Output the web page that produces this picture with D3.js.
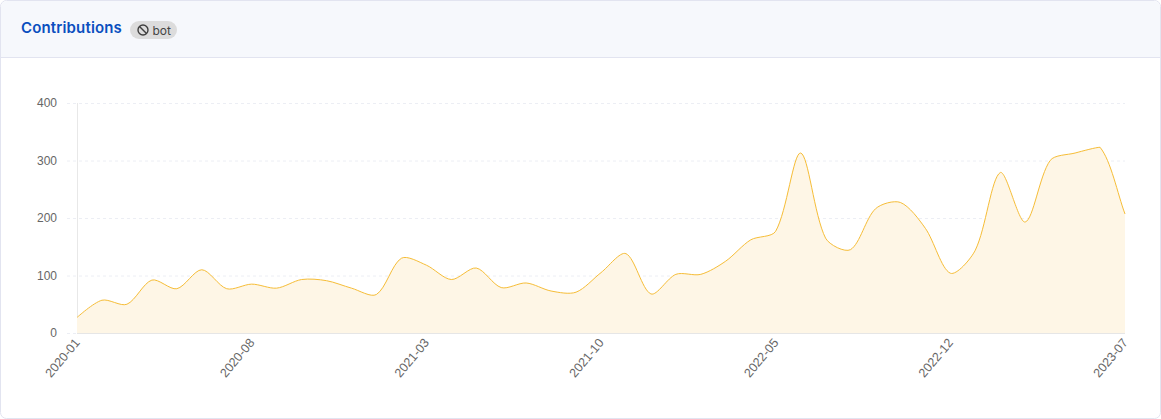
<!DOCTYPE html>
<html><head><meta charset="utf-8">
<script src="https://cdn.jsdelivr.net/npm/d3@7"></script>
<style>
html,body{margin:0;padding:0;background:#fff;}
svg{display:block;}
</style></head><body>
<svg id="c" width="1161" height="419"></svg>
<script>
const months = ["2020-01","2020-02","2020-03","2020-04","2020-05","2020-06","2020-07","2020-08","2020-09","2020-10","2020-11","2020-12",
"2021-01","2021-02","2021-03","2021-04","2021-05","2021-06","2021-07","2021-08","2021-09","2021-10","2021-11","2021-12",
"2022-01","2022-02","2022-03","2022-04","2022-05","2022-06","2022-07","2022-08","2022-09","2022-10","2022-11","2022-12",
"2023-01","2023-02","2023-03","2023-04","2023-05","2023-06","2023-07"];
const contributions = [27,57,50,92,77,110,77,85,78,93,91,78,67,130,118,93,113,79,87,73,71,105,138,68,102,102,125,162,177,313,165,145,216,227,182,104,144,279,193,300,313,323,207];
const xTickLabels = ["2020-01","2020-08","2021-03","2021-10","2022-05","2022-12","2023-07"];
const yTicks = [0,100,200,300,400];

// Length-weighted spline: tangent along (next - prev), split by neighbouring segment lengths.
function weightedSpline(context){
  const smooth = 0.3; let pts = [];
  return {
    lineStart(){ pts = []; },
    point(px,py){ pts.push([+px,+py]); },
    lineEnd(){
      const n = pts.length;
      const ys = pts.map(p=>p[1]), yMin = d3.min(ys), yMax = d3.max(ys);
      const hyp = (a,b)=>Math.hypot(a[0]-b[0],a[1]-b[1]);
      context.moveTo(pts[0][0],pts[0][1]);
      let out = pts[0];
      for(let i=1;i<n;i++){
        const p = pts[i], prev = pts[i-1], next = pts[Math.min(i+1,n-1)];
        const vx=(next[0]-prev[0])*smooth, vy=(next[1]-prev[1])*smooth;
        const lp=hyp(p,prev), ln=hyp(p,next), s=(lp+ln)||1;
        const cy=v=>Math.max(yMin,Math.min(yMax,v));
        const inc=[p[0]-vx*lp/s, cy(p[1]-vy*lp/s)];
        context.bezierCurveTo(out[0],out[1],inc[0],inc[1],p[0],p[1]);
        out=[p[0]+vx*ln/s, cy(p[1]+vy*ln/s)];
      }
    },
    areaStart(){}, areaEnd(){}
  };
}

const svg = d3.select("#c");
svg.append("rect").attr("x",0.5).attr("y",0.5).attr("width",1160).attr("height",418).attr("rx",6).attr("fill","#fff").attr("stroke","#e2e4f0");
svg.append("path").attr("d","M1,57 V7 a6,6 0 0 1 6,-6 H1154 a6,6 0 0 1 6,6 V57 Z").attr("fill","#f6f8fc");
svg.append("line").attr("x1",1).attr("x2",1160).attr("y1",57.5).attr("y2",57.5).attr("stroke","#e2e4f0");
svg.append("text").attr("x",21).attr("y",33).attr("font-family","Inter, 'Noto Sans', sans-serif").attr("font-size",15).attr("letter-spacing",0.15).attr("font-weight",600).attr("fill","#0a4fbf").text("Contributions");
svg.append("rect").attr("x",130).attr("y",21).attr("width",47).attr("height",18).attr("rx",9).attr("fill","#dcdcdc");
const ic = svg.append("g").attr("transform","translate(143,30)").attr("fill","none").attr("stroke","#3f3f3f").attr("stroke-width",1.4);
ic.append("circle").attr("r",5);
ic.append("line").attr("x1",-3.5).attr("y1",-3.5).attr("x2",3.5).attr("y2",3.5);
svg.append("text").attr("x",152.5).attr("y",34.5).attr("font-family","Inter, 'Noto Sans', sans-serif").attr("font-size",12).attr("fill","#444").text("bot");

const x = d3.scalePoint().domain(months).range([77,1125]);
const y = d3.scaleLinear().domain([0,400]).range([333,103]);
const font = "'Liberation Sans', Arial, sans-serif";

const gy = svg.append("g").attr("transform","translate(77,0)")
  .call(d3.axisLeft(y).tickValues(yTicks).tickSize(0).tickPadding(20));
gy.select(".domain").remove();
gy.selectAll("text").attr("font-family",font).attr("font-size",12).attr("fill","#666");
gy.selectAll(".tick").append("line").attr("x1",-10).attr("x2",1048).attr("y1",0).attr("y2",0)
  .attr("stroke","#eceef4").attr("stroke-dasharray","3,3");

svg.append("line").attr("x1",77.5).attr("x2",77.5).attr("y1",103).attr("y2",333).attr("stroke","#e8e8e8");

const lineGen = d3.line().x((d,i)=>x(months[i])).y(d=>y(d)).curve(weightedSpline);
const topPath = lineGen(contributions);
svg.append("path").attr("fill","#fef6e6")
  .attr("d",topPath+"L"+x(months[months.length-1])+","+y(0)+"L"+x(months[0])+","+y(0)+"Z");
svg.append("path").attr("fill","none").attr("stroke","#f6bd37").attr("stroke-width",1).attr("d",topPath);
svg.append("line").attr("x1",77).attr("x2",1125).attr("y1",333.5).attr("y2",333.5).attr("stroke","#e6e6e6");

const gx = svg.append("g").attr("transform","translate(0,333)")
  .call(d3.axisBottom(x).tickValues(xTickLabels).tickSize(0).tickPadding(0));
gx.select(".domain").remove();
gx.selectAll("text").attr("font-family",font).attr("font-size",12.5).attr("fill","#666")
  .attr("text-anchor","end").attr("dy",0).attr("y",0)
  .attr("transform","translate(3,10) rotate(-50)");
</script>
</body></html>
